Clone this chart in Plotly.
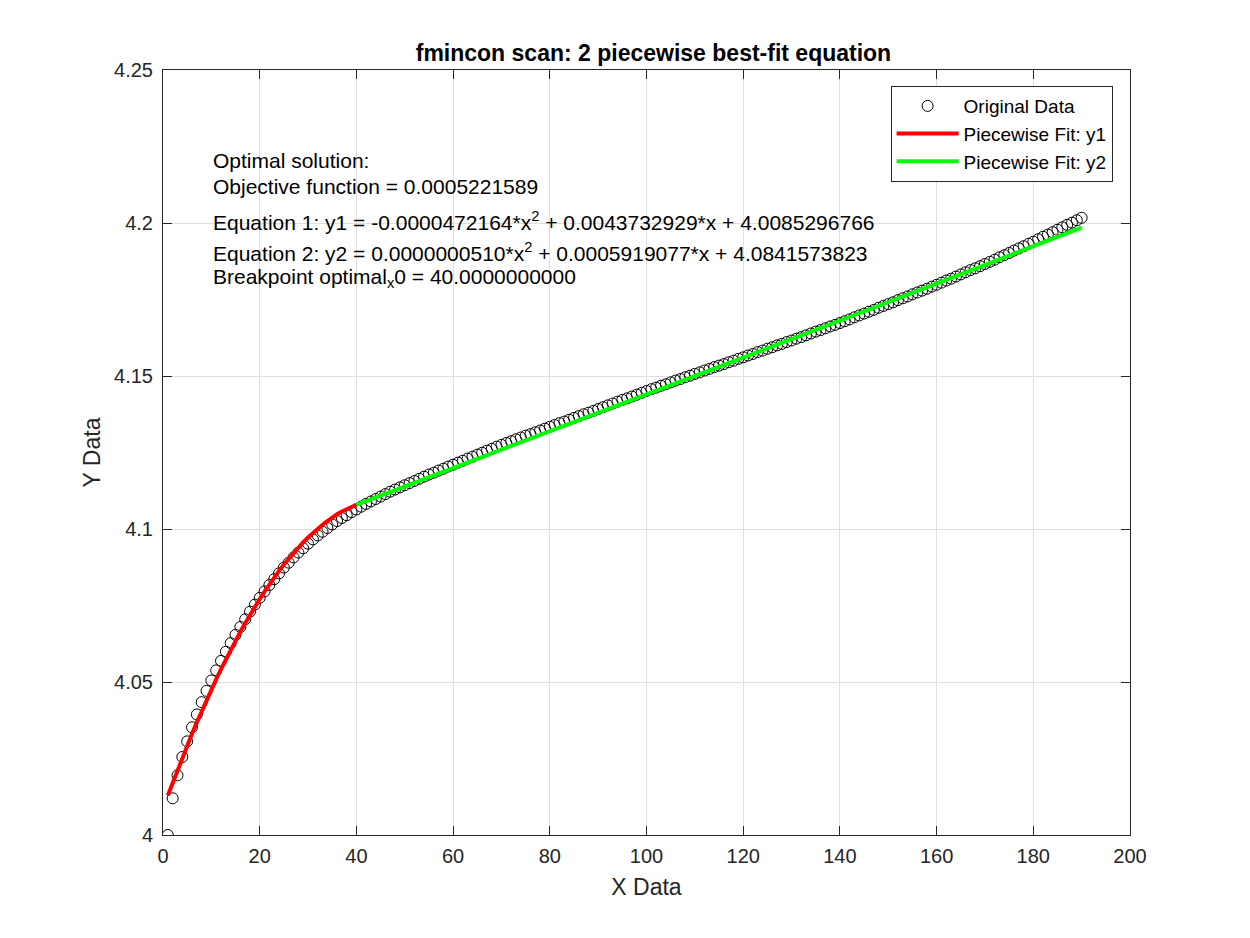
import plotly.graph_objects as go

# Original data (x = 1..190)
x_data = list(range(1, 191))
y_data = [
    4.0000, 4.0120, 4.0195, 4.0255, 4.0306, 4.0352, 4.0394, 4.0434, 4.0471, 4.0505,
    4.0538, 4.0569, 4.0599, 4.0627, 4.0654, 4.0680, 4.0705, 4.0730, 4.0753, 4.0775,
    4.0796, 4.0817, 4.0836, 4.0855, 4.0874, 4.0890, 4.0907, 4.0923, 4.0937, 4.0952,
    4.0966, 4.0979, 4.0991, 4.1003, 4.1015, 4.1026, 4.1036, 4.1045, 4.1055, 4.1064,
    4.1073, 4.1082, 4.1090, 4.1098, 4.1106, 4.1114, 4.1122, 4.1129, 4.1136, 4.1143,
    4.1150, 4.1157, 4.1164, 4.1171, 4.1178, 4.1184, 4.1191, 4.1197, 4.1204, 4.1210,
    4.1217, 4.1223, 4.1230, 4.1236, 4.1243, 4.1249, 4.1256, 4.1262, 4.1269, 4.1275,
    4.1281, 4.1287, 4.1293, 4.1299, 4.1305, 4.1310, 4.1316, 4.1322, 4.1328, 4.1334,
    4.1340, 4.1346, 4.1351, 4.1357, 4.1363, 4.1369, 4.1375, 4.1380, 4.1386, 4.1392,
    4.1398, 4.1404, 4.1410, 4.1416, 4.1422, 4.1427, 4.1433, 4.1439, 4.1445, 4.1451,
    4.1457, 4.1462, 4.1468, 4.1473, 4.1479, 4.1485, 4.1490, 4.1496, 4.1501, 4.1507,
    4.1512, 4.1518, 4.1523, 4.1529, 4.1534, 4.1539, 4.1545, 4.1550, 4.1556, 4.1561,
    4.1567, 4.1572, 4.1578, 4.1583, 4.1589, 4.1594, 4.1600, 4.1605, 4.1611, 4.1616,
    4.1622, 4.1627, 4.1633, 4.1639, 4.1645, 4.1650, 4.1656, 4.1662, 4.1667, 4.1673,
    4.1679, 4.1685, 4.1692, 4.1698, 4.1704, 4.1710, 4.1716, 4.1723, 4.1729, 4.1735,
    4.1741, 4.1748, 4.1754, 4.1760, 4.1767, 4.1773, 4.1779, 4.1785, 4.1792, 4.1798,
    4.1805, 4.1812, 4.1818, 4.1825, 4.1832, 4.1839, 4.1846, 4.1852, 4.1859, 4.1866,
    4.1873, 4.1880, 4.1888, 4.1895, 4.1902, 4.1910, 4.1917, 4.1924, 4.1932, 4.1939,
    4.1947, 4.1955, 4.1962, 4.1970, 4.1978, 4.1986, 4.1994, 4.2001, 4.2009, 4.2017,
]

# Piecewise fit y1 (x = 1..40)
x_fit1 = list(range(1, 41))
y_fit1 = [
    4.0129, 4.0171, 4.0212, 4.0253, 4.0292, 4.0331, 4.0368, 4.0405, 4.0441, 4.0475,
    4.0509, 4.0542, 4.0574, 4.0605, 4.0635, 4.0664, 4.0692, 4.0720, 4.0746, 4.0771,
    4.0795, 4.0819, 4.0841, 4.0863, 4.0884, 4.0903, 4.0922, 4.0940, 4.0956, 4.0972,
    4.0987, 4.1001, 4.1014, 4.1026, 4.1038, 4.1048, 4.1057, 4.1065, 4.1073, 4.1079,
]

# Piecewise fit y2 (x = 40..190)
x_fit2 = [40, 50, 60, 70, 80, 90, 100, 110, 120, 130, 140, 150, 160, 170, 180, 190]
y_fit2 = [4.1079, 4.1139, 4.1199, 4.1258, 4.1318, 4.1378, 4.1439, 4.1499,
          4.1559, 4.1620, 4.1680, 4.1741, 4.1802, 4.1863, 4.1924, 4.1985]

x_ticks = [0, 20, 40, 60, 80, 100, 120, 140, 160, 180, 200]
y_ticks = [4, 4.05, 4.1, 4.15, 4.2, 4.25]
y_ticktext = ["4", "4.05", "4.1", "4.15", "4.2", "4.25"]

info_lines = [
    "Optimal solution:",
    "Objective function = 0.0005221589",
    "Equation 1: y1 = -0.0000472164*x<sup>2</sup> + 0.0043732929*x + 4.0085296766",
    "Equation 2: y2 = 0.0000000510*x<sup>2</sup> + 0.0005919077*x + 4.0841573823",
    "Breakpoint optimal<sub>x</sub>0 = 40.0000000000",
]
info_y = [4.2203, 4.2118, 4.2007, 4.1905, 4.1820]

FONT = "Arial, Liberation Sans, sans-serif"
AX_COLOR = "#262626"
GRID = "#dfdfdf"

fig = go.Figure()
fig.add_trace(go.Scatter(x=x_data, y=y_data, mode="markers", name="Original Data",
                         marker=dict(symbol="circle-open", size=11, color="black",
                                     line=dict(width=1, color="black"))))
fig.add_trace(go.Scatter(x=x_fit1, y=y_fit1, mode="lines", name="Piecewise Fit: y1",
                         line=dict(color="#FF0000", width=4)))
fig.add_trace(go.Scatter(x=x_fit2, y=y_fit2, mode="lines", name="Piecewise Fit: y2",
                         line=dict(color="#00FF00", width=4)))

for txt, yy in zip(info_lines, info_y):
    fig.add_annotation(x=10, y=yy, xref="x", yref="y", text=txt, showarrow=False,
                       xanchor="left", yanchor="middle",
                       font=dict(family=FONT, size=21, color="black"))

# page body has an 8px margin, so the figure is a little smaller than the window
fig.update_layout(
    width=1242, height=930, template="simple_white",
    paper_bgcolor="white", plot_bgcolor="white",
    margin=dict(l=155, r=120, t=62, b=103),
    font=dict(family=FONT, color=AX_COLOR),
    title=dict(text="<b>fmincon scan: 2 piecewise best-fit equation</b>",
               x=0.5197, xanchor="center", y=0.9516, yanchor="middle",
               font=dict(family=FONT, size=23, color="black")),
    legend=dict(x=0.982, y=0.979, xanchor="right", yanchor="top",
                bgcolor="white", bordercolor=AX_COLOR, borderwidth=1,
                font=dict(family=FONT, size=19, color="black"),
                itemwidth=62, tracegroupgap=0),
    showlegend=True,
)

fig.update_xaxes(range=[0, 200], tickvals=x_ticks, showgrid=True, gridcolor=GRID,
                 zeroline=False, showline=True, linecolor=AX_COLOR, linewidth=1,
                 mirror="ticks", ticks="inside", ticklen=9, tickcolor=AX_COLOR,
                 ticklabelstandoff=3,
                 tickfont=dict(family=FONT, size=20, color=AX_COLOR),
                 title=dict(text="X Data", standoff=12,
                            font=dict(family=FONT, size=23, color=AX_COLOR)))
fig.update_yaxes(range=[4, 4.25], tickvals=y_ticks, ticktext=y_ticktext, showgrid=True,
                 gridcolor=GRID, zeroline=False, showline=True, linecolor=AX_COLOR,
                 linewidth=1, mirror="ticks", ticks="inside", ticklen=9, tickcolor=AX_COLOR,
                 ticklabelstandoff=5,
                 tickfont=dict(family=FONT, size=20, color=AX_COLOR),
                 title=dict(text="Y Data", standoff=7,
                            font=dict(family=FONT, size=23, color=AX_COLOR)))

fig.write_html("out.html")
